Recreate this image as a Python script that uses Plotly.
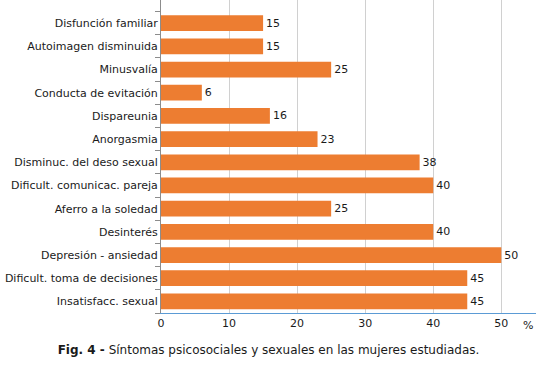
import plotly.graph_objects as go

categories = [
    "Disfunción familiar",
    "Autoimagen disminuida",
    "Minusvalía",
    "Conducta de evitación",
    "Dispareunia",
    "Anorgasmia",
    "Disminuc. del deso sexual",
    "Dificult. comunicac. pareja",
    "Aferro a la soledad",
    "Desinterés",
    "Depresión - ansiedad",
    "Dificult. toma de decisiones",
    "Insatisfacc. sexual",
]
values = [15, 15, 25, 6, 16, 23, 38, 40, 25, 40, 50, 45, 45]
x_ticks = [0, 10, 20, 30, 40, 50]

# plot bottom-to-top
cats_plot = categories[::-1]
vals_plot = values[::-1]

font_family = "DejaVu Sans, Verdana, sans-serif"

fig = go.Figure(
    go.Bar(
        y=cats_plot,
        x=vals_plot,
        orientation="h",
        marker=dict(color="#ED7D31", line=dict(width=0)),
        text=[str(v) for v in vals_plot],
        textposition="outside",
        textfont=dict(size=11, color="#1a1a1a", family=font_family),
        cliponaxis=False,
        width=0.68,
    )
)

fig.update_layout(
    width=537,
    height=365,
    margin=dict(l=161, r=1, t=0, b=52),
    paper_bgcolor="white",
    plot_bgcolor="white",
    showlegend=False,
    font=dict(family=font_family, size=11, color="#1a1a1a"),
    title=dict(
        text="<b>Fig. 4 -</b> Síntomas psicosociales y sexuales en las mujeres estudiadas.",
        x=0.5,
        xref="container",
        xanchor="center",
        y=15 / 365,
        yref="container",
        yanchor="middle",
        font=dict(size=12, color="#1a1a1a", family=font_family),
    ),
    xaxis=dict(
        range=[0, 55.1],
        tickvals=x_ticks,
        ticktext=[str(t) for t in x_ticks],
        showgrid=True,
        gridcolor="#d0d0d0",
        gridwidth=1,
        zeroline=False,
        showline=True,
        linecolor="#5B9BD5",
        linewidth=1,
        ticks="",
        tickfont=dict(size=11),
        automargin=False,
    ),
    yaxis=dict(
        type="category",
        categoryorder="array",
        categoryarray=cats_plot,
        range=[-0.5, 13.0],
        showgrid=False,
        showline=True,
        linecolor="#8c8c8c",
        linewidth=1,
        ticks="outside",
        tickson="boundaries",
        ticklen=5,
        tickcolor="#8c8c8c",
        tickfont=dict(size=11),
        automargin=False,
    ),
    annotations=[
        dict(
            text="%",
            x=53.9, xref="x", xanchor="center",
            y=0, yref="paper", yanchor="top", yshift=-4,
            showarrow=False,
            font=dict(size=11),
        )
    ],
)

fig.write_html(
    "out.html",
    config={"displayModeBar": False},
    post_script="document.body.style.margin='0';document.body.style.overflow='hidden';",
)
